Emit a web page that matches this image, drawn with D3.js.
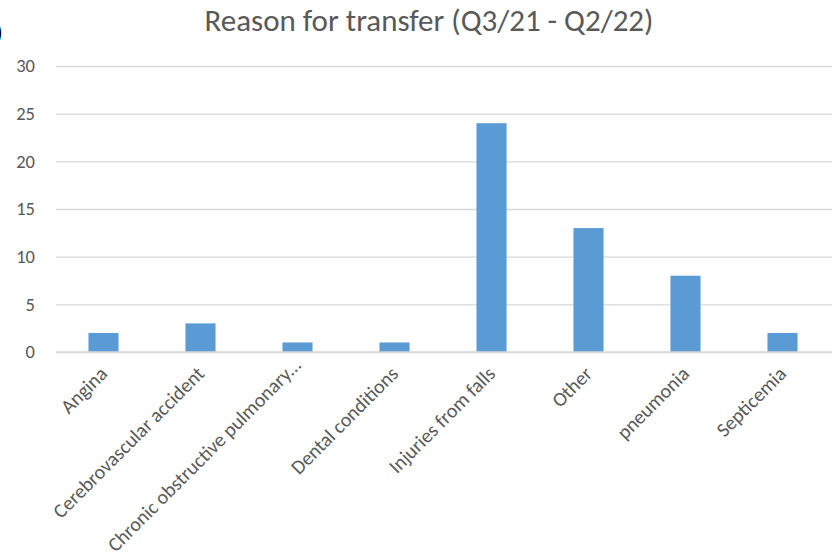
<!DOCTYPE html>
<html>
<head>
<meta charset="utf-8">
<script src="https://cdn.jsdelivr.net/npm/d3@7"></script>
<style>
  html, body { margin: 0; padding: 0; background: #fff; }
  svg { display: block; }
</style>
</head>
<body>
<svg id="chart" width="835" height="557"></svg>
<script>
// Transfer reasons and counts
const categories = [
  "Angina",
  "Cerebrovascular accident",
  "Chronic obstructive pulmonary...",
  "Dental conditions",
  "Injuries from falls",
  "Other",
  "pneumonia",
  "Septicemia"
];
const counts = [2, 3, 1, 1, 24, 13, 8, 2];
const yTicks = [0, 5, 10, 15, 20, 25, 30];
const title = "Reason for transfer (Q3/21 - Q2/22)";

const W = 835, H = 557;
const margin = { left: 56, right: 3, top: 66, bottom: 205 };
const font = "Carlito, 'Open Sans', 'Liberation Sans', sans-serif";
const textColor = "#595959";

const svg = d3.select("#chart");

const x = d3.scaleBand()
  .domain(categories)
  .range([margin.left - 1, W - margin.right - 1])
  .paddingInner(0.69)
  .paddingOuter(0.345);

const y = d3.scaleLinear()
  .domain([0, 30])
  .range([H - margin.bottom, margin.top]);

// Stray bracket at the left edge
svg.append("text")
  .attr("x", -4).attr("y", 40)
  .attr("font-family", font).attr("font-size", 22)
  .attr("fill", "#000")
  .text(")");

// Title
svg.append("text")
  .attr("x", 429).attr("y", 31)
  .attr("text-anchor", "middle")
  .attr("font-family", font).attr("font-size", 31)
  .attr("fill", textColor)
  .text(title);

// Horizontal gridlines + y labels
const yAxis = d3.axisLeft(y).tickValues(yTicks)
  .tickSize(-(W - margin.left - margin.right))
  .tickPadding(21);
const gy = svg.append("g")
  .attr("transform", `translate(${margin.left},0)`)
  .call(yAxis);
gy.select(".domain").remove();
gy.selectAll(".tick line").attr("stroke", "#d9d9d9").attr("stroke-width", 1.3);
gy.selectAll(".tick text")
  .attr("font-family", font).attr("font-size", 18.5)
  .attr("fill", textColor);

// Bars
svg.append("g").selectAll("rect")
  .data(categories)
  .join("rect")
  .attr("x", d => x(d))
  .attr("width", x.bandwidth())
  .attr("y", (d, i) => y(counts[i]))
  .attr("height", (d, i) => y(0) - y(counts[i]))
  .attr("fill", "#5b9bd5");

// Baseline
svg.append("line")
  .attr("x1", margin.left).attr("x2", W - margin.right)
  .attr("y1", y(0)).attr("y2", y(0))
  .attr("stroke", "#d9d9d9").attr("stroke-width", 1.5);

// Category labels, rotated -45°, ending at the tick;
// labels that would run past the bottom edge are lifted to fit.
const s45 = Math.SQRT1_2;
svg.append("g").selectAll("text")
  .data(categories)
  .join("text")
  .attr("text-anchor", "end")
  .attr("font-family", font).attr("font-size", 20)
  .attr("fill", textColor)
  .text(d => d)
  .each(function (d) {
    const w = this.getComputedTextLength();
    let ax = x(d) + x.bandwidth() / 2 + 5;
    let ay = y(0) + 23;
    const bottom = ay + w * s45;
    const excess = bottom - (H - 4);
    if (excess > 0) ay -= excess;
    d3.select(this).attr("transform", `translate(${ax},${ay}) rotate(-45)`);
  });
</script>
</body>
</html>
